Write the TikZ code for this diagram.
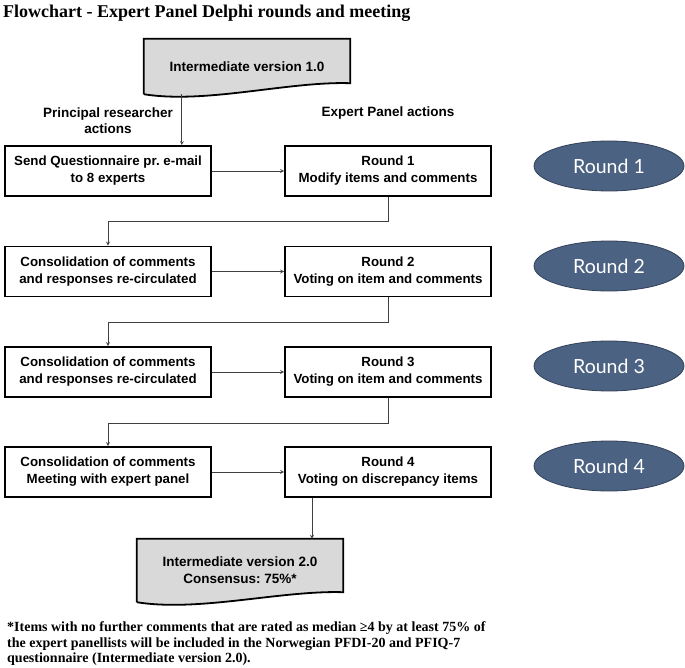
\documentclass[tikz,border=0pt]{standalone}
\usepackage{fontspec}
\setmainfont{Liberation Serif}
\setsansfont{Liberation Sans}
\newfontfamily\roundfont{Lato}
\newfontfamily\notefont{Liberation Serif}
\usetikzlibrary{positioning}
\usetikzlibrary{calc}
\usetikzlibrary{shapes}
\usetikzlibrary{arrows}
\usetikzlibrary{backgrounds}
\frenchspacing

\definecolor{docgray}{RGB}{217,217,217}
\definecolor{roundblue}{RGB}{76,98,130}
\definecolor{roundedge}{RGB}{50,64,88}

\tikzset{
  stepbox/.style={draw=black,line width=1.8pt,minimum width=206pt,minimum height=50pt,inner sep=0pt,align=center,font=\sffamily\bfseries\fontsize{13.3}{17}\selectfont},
  docbox/.style={minimum width=206pt,inner sep=0pt,align=center,font=\sffamily\bfseries\fontsize{13.5}{17}\selectfont},
  docline/.style={draw=black,line width=1.8pt,fill=docgray},
  roundoval/.style={ellipse,draw=roundedge,line width=0.8pt,fill=roundblue,text=white,minimum width=150pt,minimum height=50pt,inner sep=0pt,font=\roundfont\fontsize{19.5}{22}\selectfont},
  flow/.style={draw=black!75,line width=0.8pt,->,>=stealth},
}

\begin{document}
\begin{tikzpicture}[x=1pt,y=-1pt]
\useasboundingbox (0,0) rectangle (685,668);

%TITLE
\node[right,inner sep=0pt,font=\bfseries\fontsize{18}{20}\selectfont](title-label)at(3,13){Flowchart - Expert Panel Delphi rounds and meeting};

%DOCUMENTS
\node[docbox,minimum height=55pt](docA)at(247,66.5){Intermediate version 1.0};
\node[docbox,minimum height=63pt](docB)at(240,570.5){Intermediate version 2.0\\Consensus: 75\%*};
\begin{scope}[on background layer]
\draw[docline] (docA.south west) -- (docA.north west) -- (docA.north east) -- ([yshift=11pt]docA.south east)
  .. controls +(-62,-2) and +(62,10) .. (docA.south west);
\draw[docline] (docB.south west) -- (docB.north west) -- (docB.north east) -- ([yshift=10pt]docB.south east)
  .. controls +(-62,-2) and +(62,10) .. (docB.south west);
\end{scope}

%COLUMN LABELS
\node[align=center,font=\sffamily\bfseries\fontsize{13.5}{16}\selectfont](PR-label)at(108,121){Principal researcher\\actions};
\node[align=center,font=\sffamily\bfseries\fontsize{13.5}{16}\selectfont](EP-label)at(388,113){Expert Panel actions};

%LEFT
\node[stepbox](sendQ)at(108,171){Send Questionnaire pr. e-mail\\to 8 experts};
\node[stepbox](cons2)at(108,271.5){Consolidation of comments\\and responses re-circulated};
\node[stepbox](cons3)at(108,372){Consolidation of comments\\and responses re-circulated};
\node[stepbox](cons4)at(108,472){Consolidation of comments\\Meeting with expert panel};

%RIGHT
\node[stepbox](round1)at(388,171){Round 1\\Modify items and comments};
\node[stepbox](round2)at(388,271.5){Round 2\\Voting on item and comments};
\node[stepbox](round3)at(388,372){Round 3\\Voting on item and comments};
\node[stepbox](round4)at(388,472){Round 4\\Voting on discrepancy items};

%OVALS
\node[roundoval](oval1)at(609,166){Round 1};
\node[roundoval](oval2)at(609,266){Round 2};
\node[roundoval](oval3)at(609,366){Round 3};
\node[roundoval](oval4)at(609,466){Round 4};

%ARROWS
\draw[flow] ([xshift=38pt]docA.south west) -- ([xshift=38pt]docA.south west |- sendQ.north);
\draw[flow] (sendQ) -- (round1);
\draw[flow] (cons2) -- (round2);
\draw[flow] (cons3) -- (round3);
\draw[flow] (cons4) -- (round4);
\draw[flow] (round1.south) -- ++(0,25) -| (cons2.north);
\draw[flow] (round2.south) -- ++(0,25) -| (cons3.north);
\draw[flow] (round3.south) -- ++(0,25) -| (cons4.north);
\draw[flow] ([xshift=-76pt]round4.south) -- ([xshift=-76pt]round4.south |- docB.north);

%FOOTNOTE
\node[right,inner sep=0pt,align=left,font=\notefont\bfseries\fontsize{14}{15.5}\selectfont](note-label)at(7,644){*Items with no further comments that are rated as median ≥4 by at least 75\% of\\the expert panellists will be included in the Norwegian PFDI-20 and PFIQ-7\\questionnaire (Intermediate version 2.0).};

\end{tikzpicture}
\end{document}
